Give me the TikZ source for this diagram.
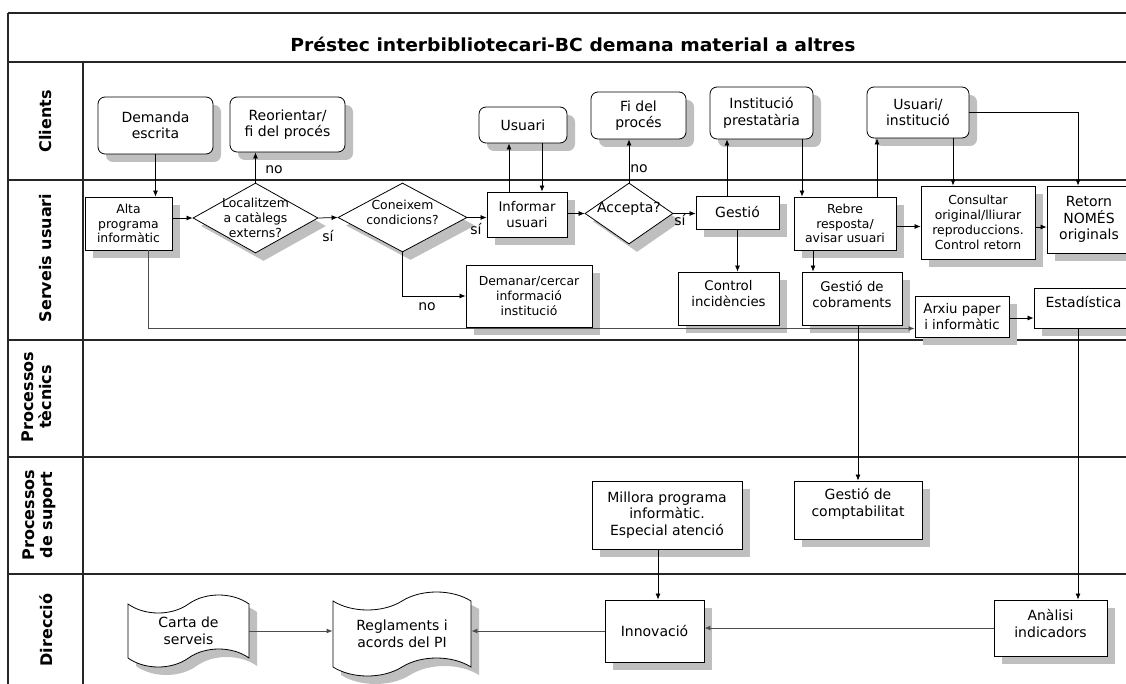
\documentclass[tikz,border=0pt]{standalone}
\usepackage{graphicx}
\usepackage{fontspec}
\setmainfont{DejaVu Sans}
\usetikzlibrary{arrows.meta,shapes.geometric,shapes.symbols,shadows}
\begin{document}
\begin{tikzpicture}[x=1pt,y=-1pt,
  fL/.style={font=\fontsize{14}{16.5}\selectfont},
  fM/.style={font=\fontsize{13.3}{16}\selectfont},
  fS/.style={font=\fontsize{12.4}{14.8}\selectfont},
  boxshadow/.style={drop shadow={shadow xshift=8pt,shadow yshift=-8pt,fill=black!25,opacity=1}},
  box/.style={draw=black,line width=0.8pt,fill=white,boxshadow,align=center,inner sep=0pt},
  cbox/.style={box,rounded corners=7pt},
  dia/.style={diamond,box},
  doc/.style={tape,box,tape bend height=18pt},
  txt/.style={align=center,inner sep=0pt},
  lane/.style={draw=black!85,line width=1.6pt},
  lanelbl/.style={rotate=90,align=center,font=\bfseries\fontsize{16}{18}\selectfont},
  arr/.style={draw=black,line width=0.75pt,-{Latex[length=6pt,width=5pt]}},
  garr/.style={arr,draw=black!70,line width=1pt},
  yn/.style={fL,inner sep=0pt}
]
\useasboundingbox (0,0) rectangle (1126,684);
\clip (0,0) rectangle (1126,684);

% swimlane frame
\draw[lane] (8,13) -- (1140,13);
\draw[lane] (8,62) -- (1140,62);
\draw[lane] (8,180) -- (1140,180);
\draw[lane] (8,340) -- (1140,340);
\draw[lane] (8,457) -- (1140,457);
\draw[lane] (8,574) -- (1140,574);
\draw[lane] (8,13) -- (8,700);
\draw[lane] (83,62) -- (83,700);

\node[font=\bfseries\fontsize{18}{20}\selectfont] (title) at (573,44)
  {\resizebox{565pt}{\height}{Préstec interbibliotecari-BC demana material a altres}};

\node[lanelbl] (lc) at (46,121.5) {Clients};
\node[lanelbl] (ls) at (46,258) {Serveis usuari};
\node[lanelbl] (lt) at (37,397) {Processos\\tècnics};
\node[lanelbl] (lp) at (39,515) {Processos\\de suport};
\node[lanelbl] (ld) at (46,630) {Direcció};

% clients
\node[cbox,fL,minimum width=115pt,minimum height=57pt] (dem) at (155.5,125.5) {Demanda\\escrita};
\node[cbox,fL,minimum width=115pt,minimum height=55pt] (reo) at (287.5,124.5) {Reorientar/\\fi del procés};
\node[cbox,fL,minimum width=88pt,minimum height=36pt] (usu) at (523,125) {Usuari};
\node[cbox,fL,minimum width=95pt,minimum height=47pt] (fi) at (638.5,115.5) {Fi del\\procés};
\node[cbox,fL,minimum width=103pt,minimum height=52pt] (ins) at (761.5,113) {Institució\\prestatària};
\node[cbox,fL,minimum width=102pt,minimum height=51pt] (usi) at (918,112.5) {Usuari/\\institució};

% user services
\node[box,fS,minimum width=87pt,minimum height=53pt] (alta) at (128.5,223.5) {Alta\\programa\\informàtic};
\node[dia,minimum width=125pt,minimum height=70pt] (loc) at (255.5,218) {};
\node[txt,fS] (loct) at (255.5,218) {Localitzem\\a catàlegs\\externs?};
\node[dia,minimum width=129pt,minimum height=69pt] (con) at (402.5,217.5) {};
\node[txt,fS] (cont) at (402.5,212.5) {Coneixem\\condicions?};
\node[box,fM,minimum width=80pt,minimum height=45pt] (inf) at (527,214.5) {Informar\\usuari};
\node[dia,minimum width=88pt,minimum height=61pt] (acc) at (629,213.5) {};
\node[txt,fL] (acct) at (629,209) {Accepta?};
\node[box,fL,minimum width=83pt,minimum height=33pt] (ges) at (737.5,212.5) {Gestió};
\node[box,fS,minimum width=102pt,minimum height=53pt] (reb) at (845,223.5) {Rebre\\resposta/\\avisar usuari};
\node[box,fS,minimum width=114pt,minimum height=73pt] (cons) at (978,222.5) {Consultar\\original/lliurar\\reproduccions.\\Control retorn};
\node[box,fL,minimum width=84pt,minimum height=67pt] (ret) at (1089,219.5) {Retorn\\NOMÉS\\originals};
\node[box,fS,minimum width=126pt,minimum height=62pt] (dmn) at (529,296) {Demanar/cercar\\informació\\institució};
\node[box,minimum width=101pt,minimum height=53pt] (ctrl) at (728.5,298.5) {};
\node[txt,fM] (ctrlt) at (728.5,294) {Control\\incidències};
\node[box,minimum width=100pt,minimum height=53pt] (cob) at (852,298.5) {};
\node[txt,fM] (cobt) at (852,294) {Gestió de\\cobraments};
\node[box,fM,minimum width=94pt,minimum height=41pt] (arx) at (962,316.5) {Arxiu paper\\i informàtic};
\node[box,minimum width=99pt,minimum height=40pt] (est) at (1083.5,308) {};
\node[txt,fL] (estt) at (1083.5,302) {Estadística};

% support processes
\node[box,fL,minimum width=150pt,minimum height=68pt] (mil) at (667,515) {Millora programa\\informàtic.\\Especial atenció};
\node[box,minimum width=128pt,minimum height=58pt] (com) at (858,510) {};
\node[txt,fL] (comt) at (858,504) {Gestió de\\comptabilitat};

% management
\node[box,fL,minimum width=99pt,minimum height=62pt] (inn) at (654.5,631) {Innovació};
\node[box,minimum width=113pt,minimum height=56pt] (ana) at (1050.5,628) {};
\node[txt,fL] (anat) at (1050.5,623.5) {Anàlisi\\indicadors};
\node[doc,fL,minimum width=121pt,minimum height=72pt] (car) at (188.5,631) {Carta de\\serveis};
\node[doc,fL,minimum width=138pt,minimum height=84pt] (reg) at (402,634) {Reglaments i\\acords del PI};

% flow
\draw[arr] (dem.south) -- (dem.south |- alta.north);
\draw[arr] (loc.west -| alta.east) -- (loc.west);
\draw[arr] (loc.north) -- (loc.north |- reo.south);
\node[yn] (n1) at (274,170) {no};
\draw[arr] (loc.east) -- (con.west);
\node[yn] (s1) at (328,236) {sí};
\draw[arr] (con.east) -- (con.east -| inf.west);
\node[yn] (s2) at (476,229) {sí};
\draw[arr] (con.south) |- (dmn.west);
\node[yn] (n2) at (427,307) {no};
\draw[arr] ([xshift=-18pt]inf.north) -- ([xshift=-18pt]inf.north |- usu.south);
\draw[arr] ([xshift=15pt]inf.north |- usu.south) -- ([xshift=15pt]inf.north);
\draw[arr] (acc.west -| inf.east) -- (acc.west);
\draw[arr] (acc.north) -- (acc.north |- fi.south);
\node[yn] (n3) at (639,169) {no};
\draw[arr] (acc.east) -- (acc.east -| ges.west);
\node[yn] (s3) at (680,220) {sí};
\draw[arr] ([xshift=-10.5pt]ges.north) -- ([xshift=-10.5pt]ges.north |- ins.south);
\draw[arr] ([xshift=-43pt]reb.north |- ins.south) -- ([xshift=-43pt]reb.north);
\draw[arr] (ges.south) -- (ges.south |- ctrl.north);
\draw[arr] ([xshift=32pt]reb.north) -- ([xshift=32pt]reb.north |- usi.south);
\draw[arr] ([xshift=-25pt]cons.north |- usi.south) -- ([xshift=-25pt]cons.north);
\draw[arr] (usi.east) -| ([xshift=-11pt]ret.north);
\draw[arr] ([yshift=-3pt]reb.east) -- ([yshift=-3pt]reb.east -| cons.west);
\draw[arr] ([yshift=-4.5pt]cons.east) -- ([yshift=-4.5pt]cons.east -| ret.west);
\draw[arr] ([xshift=-32pt]reb.south) -- ([xshift=-32pt]reb.south |- cob.north);
\draw[garr] ([xshift=19.5pt]alta.south) |- ([yshift=-12pt]arx.west);
\draw[arr] ([yshift=-1.5pt]arx.east) -- ([yshift=-1.5pt]arx.east -| est.west);
\draw[arr] (com.north |- cob.south) -- (com.north);
\draw[arr] ([xshift=-5.5pt]est.south) -- ([xshift=-5.5pt]est.south |- ana.north);
\draw[arr] ([xshift=-9pt]mil.south) -- ([xshift=-9pt]mil.south |- inn.north);
\draw[garr] (ana.west) -- (ana.west -| inn.east);
\draw[garr] (inn.west) -- (inn.west -| reg.east);
\draw[garr] (car.east) -- (car.east -| reg.west);
\end{tikzpicture}
\end{document}
